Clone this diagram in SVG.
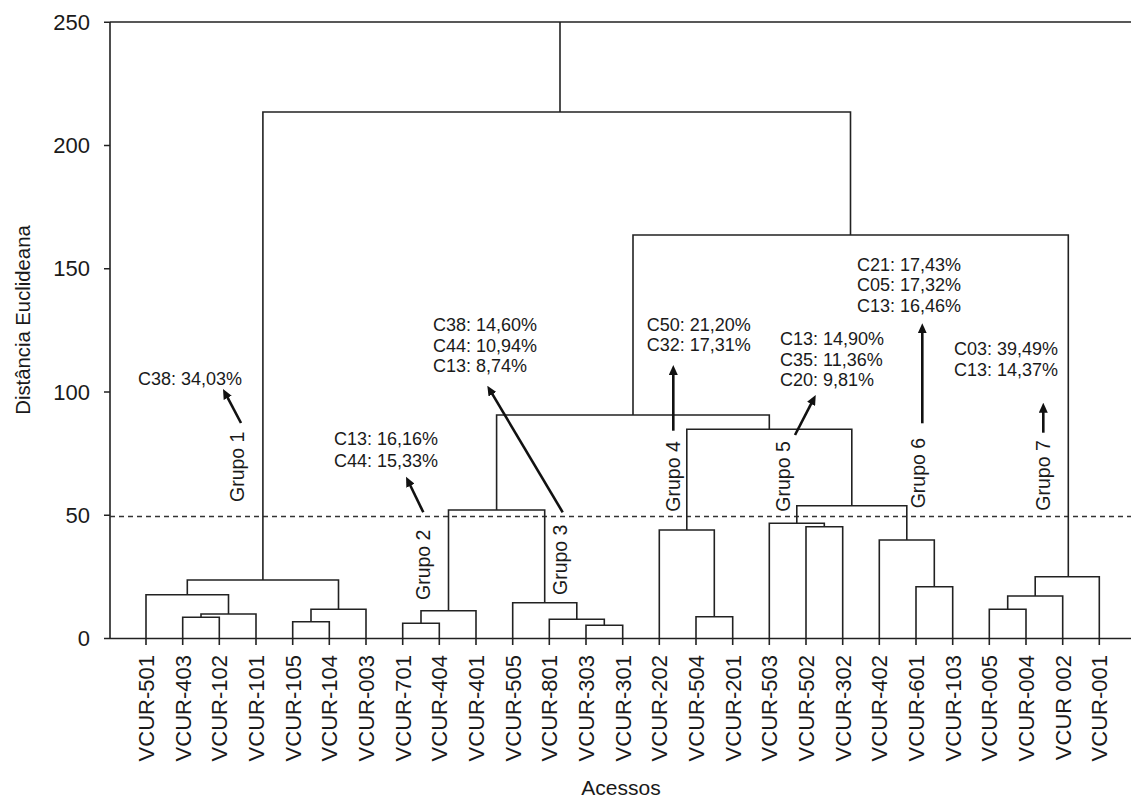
<svg xmlns="http://www.w3.org/2000/svg" width="1131" height="800" viewBox="0 0 1131 800">
<style>
text{font-family:"Liberation Sans",Arial,sans-serif;fill:#1a1a1a}
.ln{fill:none;stroke:#222;stroke-width:1.6}
.dash{fill:none;stroke:#333;stroke-width:1.5;stroke-dasharray:5 4}
.arr{fill:none;stroke:#111;stroke-width:2.6}
.tick{font-size:22px;text-anchor:end}
.leaf{font-size:22px;text-anchor:end}
.ann{font-size:18px}
.grp{font-size:19.5px}
</style>
<defs>
<marker id="ah" viewBox="0 0 10 9" refX="3" refY="4.5" markerWidth="10" markerHeight="9" markerUnits="userSpaceOnUse" orient="auto"><path d="M0 0 L10 4.5 L0 9 Z" fill="#111"/></marker>
</defs>
<rect width="1131" height="800" fill="#fff"/>
<g id="axes">
<path class="ln" d="M110 22 H1131 M110 22 V638.5 M104 638.5 H1131"/>
<path class="ln" d="M104 22.3 H110 M104 145.5 H110 M104 268.7 H110 M104 392 H110 M104 515.2 H110"/>
<path class="ln" d="M146 638.5 V645 M182.7 638.5 V645 M219.3 638.5 V645 M256 638.5 V645 M292.7 638.5 V645 M329.3 638.5 V645 M366 638.5 V645 M402.7 638.5 V645 M439.3 638.5 V645 M476 638.5 V645 M512.7 638.5 V645 M549.3 638.5 V645 M586 638.5 V645 M622.7 638.5 V645 M659.3 638.5 V645 M696 638.5 V645 M732.7 638.5 V645 M769.3 638.5 V645 M806 638.5 V645 M842.7 638.5 V645 M879.3 638.5 V645 M916 638.5 V645 M952.7 638.5 V645 M989.3 638.5 V645 M1026 638.5 V645 M1062.7 638.5 V645 M1099.3 638.5 V645"/>
<text class="tick" x="90" y="30">250</text>
<text class="tick" x="90" y="153">200</text>
<text class="tick" x="90" y="276">150</text>
<text class="tick" x="90" y="400">100</text>
<text class="tick" x="90" y="523">50</text>
<text class="tick" x="90" y="646">0</text>
<text font-size="20.3" text-anchor="middle" transform="translate(30 320) rotate(-90)">Distância Euclideana</text>
<text font-size="21" text-anchor="middle" x="621" y="795">Acessos</text>
<path class="dash" d="M110 516.5 H1131"/>
</g>
<g id="leaves">
<text class="leaf" transform="translate(154 655) rotate(-90)">VCUR-501</text>
<text class="leaf" transform="translate(190.7 655) rotate(-90)">VCUR-403</text>
<text class="leaf" transform="translate(227.3 655) rotate(-90)">VCUR-102</text>
<text class="leaf" transform="translate(264 655) rotate(-90)">VCUR-101</text>
<text class="leaf" transform="translate(300.7 655) rotate(-90)">VCUR-105</text>
<text class="leaf" transform="translate(337.3 655) rotate(-90)">VCUR-104</text>
<text class="leaf" transform="translate(374 655) rotate(-90)">VCUR-003</text>
<text class="leaf" transform="translate(410.7 655) rotate(-90)">VCUR-701</text>
<text class="leaf" transform="translate(447.3 655) rotate(-90)">VCUR-404</text>
<text class="leaf" transform="translate(484 655) rotate(-90)">VCUR-401</text>
<text class="leaf" transform="translate(520.7 655) rotate(-90)">VCUR-505</text>
<text class="leaf" transform="translate(557.3 655) rotate(-90)">VCUR-801</text>
<text class="leaf" transform="translate(594 655) rotate(-90)">VCUR-303</text>
<text class="leaf" transform="translate(630.7 655) rotate(-90)">VCUR-301</text>
<text class="leaf" transform="translate(667.3 655) rotate(-90)">VCUR-202</text>
<text class="leaf" transform="translate(704 655) rotate(-90)">VCUR-504</text>
<text class="leaf" transform="translate(740.7 655) rotate(-90)">VCUR-201</text>
<text class="leaf" transform="translate(777.3 655) rotate(-90)">VCUR-503</text>
<text class="leaf" transform="translate(814 655) rotate(-90)">VCUR-502</text>
<text class="leaf" transform="translate(850.7 655) rotate(-90)">VCUR-302</text>
<text class="leaf" transform="translate(887.3 655) rotate(-90)">VCUR-402</text>
<text class="leaf" transform="translate(924 655) rotate(-90)">VCUR-601</text>
<text class="leaf" transform="translate(960.7 655) rotate(-90)">VCUR-103</text>
<text class="leaf" transform="translate(997.3 655) rotate(-90)">VCUR-005</text>
<text class="leaf" transform="translate(1034 655) rotate(-90)">VCUR-004</text>
<text class="leaf" transform="translate(1070.7 655) rotate(-90)">VCUR 002</text>
<text class="leaf" transform="translate(1107.3 655) rotate(-90)">VCUR-001</text>
</g>
<g id="connectors">
<path class="ln" d="M182.7 638.5 V617.3 H219.3 V638.5"/>
<path class="ln" d="M201 617.3 V614 H256 V638.5"/>
<path class="ln" d="M146 638.5 V594.7 H228.5 V614"/>
<path class="ln" d="M292.7 638.5 V621.7 H329.3 V638.5"/>
<path class="ln" d="M311 621.7 V609.3 H366 V638.5"/>
<path class="ln" d="M187.3 594.7 V580 H338.5 V609.3"/>
<path class="ln" d="M402.7 638.5 V623.3 H439.3 V638.5"/>
<path class="ln" d="M421 623.3 V610.7 H476 V638.5"/>
<path class="ln" d="M586 638.5 V625.3 H622.7 V638.5"/>
<path class="ln" d="M549.3 638.5 V619.3 H604.3 V625.3"/>
<path class="ln" d="M512.7 638.5 V602.7 H576.8 V619.3"/>
<path class="ln" d="M448.5 610.7 V510 H544.7 V602.7"/>
<path class="ln" d="M696 638.5 V616.7 H732.7 V638.5"/>
<path class="ln" d="M659.3 638.5 V530 H714.3 V616.7"/>
<path class="ln" d="M806 638.5 V526.7 H842.7 V638.5"/>
<path class="ln" d="M769.3 638.5 V523.3 H824.3 V526.7"/>
<path class="ln" d="M916 638.5 V586.7 H952.7 V638.5"/>
<path class="ln" d="M879.3 638.5 V540 H934.3 V586.7"/>
<path class="ln" d="M796.8 523.3 V505.7 H906.8 V540"/>
<path class="ln" d="M686.8 530 V429.3 H851.8 V505.7"/>
<path class="ln" d="M496.6 510 V415 H769.3 V429.3"/>
<path class="ln" d="M989.3 638.5 V609.3 H1026 V638.5"/>
<path class="ln" d="M1007.7 609.3 V596 H1062.7 V638.5"/>
<path class="ln" d="M1035.2 596 V576.7 H1099.3 V638.5"/>
<path class="ln" d="M633 415 V235 H1068.3 V576.7"/>
<path class="ln" d="M262.9 580 V112 H850.5 V235"/>
<path class="ln" d="M560 112 V22"/>
</g>
<g id="annotations">
<path class="arr" marker-end="url(#ah)" d="M241 423 L226.3 395.2"/>
<path class="arr" marker-end="url(#ah)" d="M423.3 512.3 L409.1 483"/>
<path class="arr" marker-end="url(#ah)" d="M562.7 512.3 L490.9 391.7"/>
<path class="arr" marker-end="url(#ah)" d="M673.3 430.7 V372"/>
<path class="arr" marker-end="url(#ah)" d="M795 435 L812.5 401.2"/>
<path class="arr" marker-end="url(#ah)" d="M922.3 423.3 V330.3"/>
<path class="arr" marker-end="url(#ah)" d="M1043.3 432.7 V409.7"/>
</g>
<g id="grupo1"><text class="grp" transform="translate(244 502) rotate(-90)">Grupo 1</text><text class="ann" x="138" y="385">C38: 34,03%</text></g>
<g id="grupo2"><text class="grp" transform="translate(429.5 600) rotate(-90)">Grupo 2</text><text class="ann" x="334" y="445">C13: 16,16%</text><text class="ann" x="334" y="466.5">C44: 15,33%</text></g>
<g id="grupo3"><text class="grp" transform="translate(566.5 595) rotate(-90)">Grupo 3</text><text class="ann" x="433" y="331">C38: 14,60%</text><text class="ann" x="433" y="351.5">C44: 10,94%</text><text class="ann" x="433" y="372">C13: 8,74%</text></g>
<g id="grupo4"><text class="grp" transform="translate(680 511.7) rotate(-90)">Grupo 4</text><text class="ann" x="646.7" y="331">C50: 21,20%</text><text class="ann" x="646.7" y="351">C32: 17,31%</text></g>
<g id="grupo5"><text class="grp" transform="translate(790 511.7) rotate(-90)">Grupo 5</text><text class="ann" x="780" y="345">C13: 14,90%</text><text class="ann" x="780" y="365.5">C35: 11,36%</text><text class="ann" x="780" y="386">C20: 9,81%</text></g>
<g id="grupo6"><text class="grp" transform="translate(925 508.3) rotate(-90)">Grupo 6</text><text class="ann" x="857" y="270.5">C21: 17,43%</text><text class="ann" x="857" y="291">C05: 17,32%</text><text class="ann" x="857" y="311.5">C13: 16,46%</text></g>
<g id="grupo7"><text class="grp" transform="translate(1050 510.7) rotate(-90)">Grupo 7</text><text class="ann" x="954" y="355">C03: 39,49%</text><text class="ann" x="954" y="376">C13: 14,37%</text></g>
</svg>
